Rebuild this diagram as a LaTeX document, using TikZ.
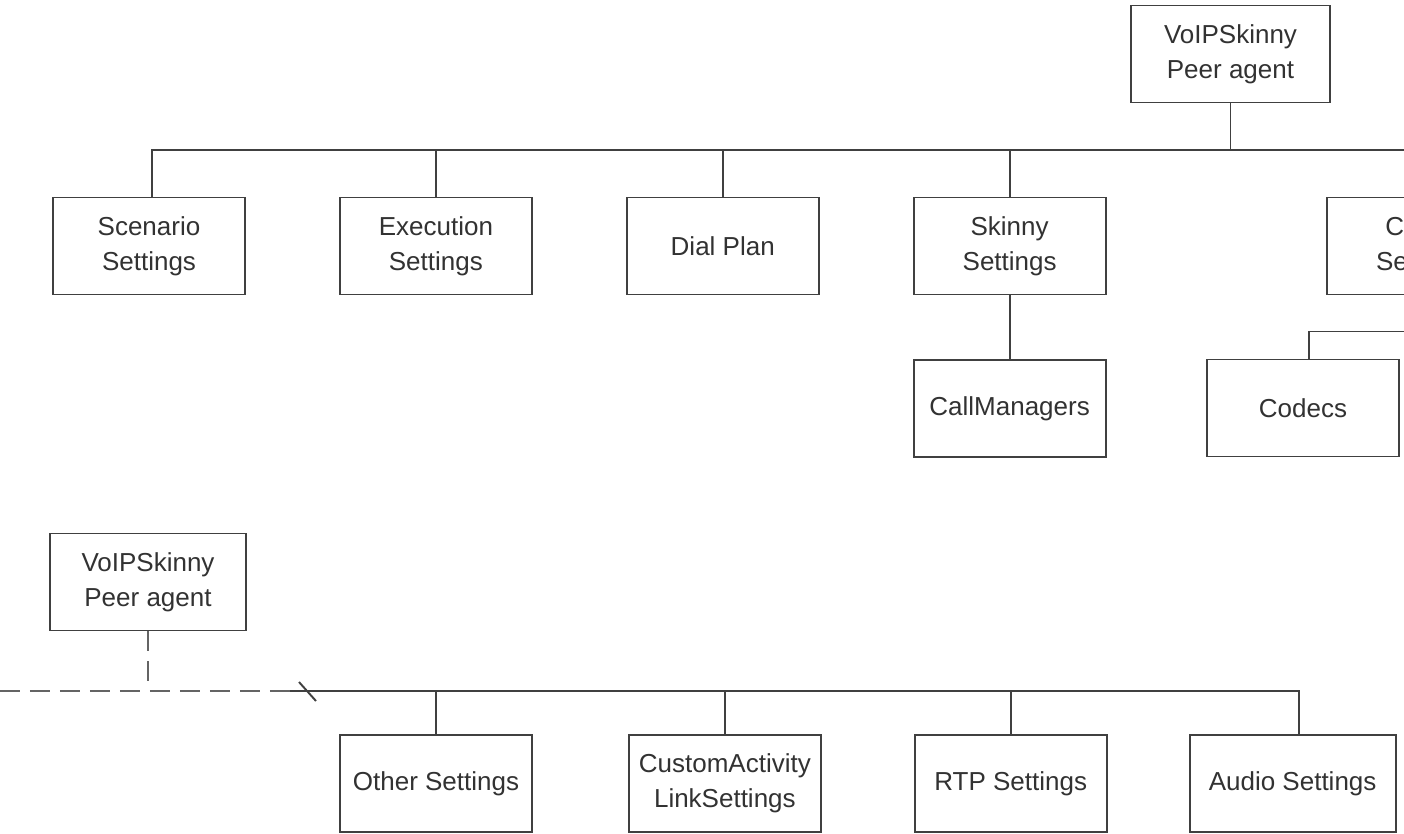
\documentclass[tikz,border=0pt]{standalone}
\usepackage{fontspec}
\setmainfont{Liberation Sans}
\usetikzlibrary{positioning,calc}
\definecolor{vsLine}{RGB}{64,64,64}
\definecolor{vsText}{RGB}{50,50,50}
\definecolor{vsDash}{RGB}{100,100,100}

\begin{document}
\begin{tikzpicture}[
    x=0.02cm, y=-0.02cm,
    node distance=1.86cm,
    box/.style={draw=vsLine, line width=1.1pt, fill=white, align=center, text=vsText, font=\fontsize{14.8}{19.9}\selectfont, minimum width=3.84cm, minimum height=1.94cm, inner sep=0pt},
    link/.style={draw=vsLine, line width=1.1pt},
    dashlink/.style={draw=vsDash, line width=1.25pt, dash pattern=on 0.4cm off 0.2cm}
  ]
  \useasboundingbox (0,0) rectangle (1404,833);
  \clip (0,0) rectangle (1404,833);
  % upper tree
  \node[box, minimum width=3.98cm] (root) at (1230.5,54) {VoIPSkinny\\Peer agent};
  \node[box] (scen) at (149,246) {Scenario\\Settings};
  \node[box, right=of scen] (exec) {Execution\\Settings};
  \node[box, right=of exec] (dial) {Dial Plan};
  \node[box, right=of dial] (skinny) {Skinny\\Settings};
  \node[box] (codecset) at (1423,246) {Codec\\Settings};
  \node[box, below=1.28cm of skinny] (callmgr) {CallManagers};
  \node[box] (codecs) at (1303,408) {Codecs};
  \coordinate (bus1) at (1230.5,150);
  \draw[link] (root.south) -- (bus1);
  \draw[link] ($(scen.north)+(3,0)$) |- (bus1) -| (codecset.north);
  \foreach \n in {exec,dial,skinny}
    \draw[link] (\n.north) -- (\n.north |- bus1);
  \draw[link] (skinny) -- (callmgr);
  \draw[link] ($(codecs.north)+(6,0)$) |- ($(codecset.south)+(0,36)$) -- (codecset.south);
  % lower tree
  \node[box, minimum width=3.92cm] (agent) at (148,582) {VoIPSkinny\\Peer agent};
  \node[box] (other) at (436,783.5) {Other Settings};
  \node[box, right=1.9cm of other] (custom) {CustomActivity\\LinkSettings};
  \node[box, right=1.84cm of custom] (rtp) {RTP Settings};
  \node[box, minimum width=4.12cm, right=1.62cm of rtp] (audio) {Audio Settings};
  \coordinate (bus2) at (290,691);
  \coordinate (tail) at (0,691);
  \draw[dashlink] (tail) -- (bus2);
  \draw[dashlink] (agent.south) -- (agent.south |- bus2);
  \draw[link] ($(bus2)+(9,-9)$) -- ($(bus2)+(26,10)$);
  \draw[link] (bus2) -| ($(audio.north)+(6,0)$);
  \foreach \n in {other,custom,rtp}
    \draw[link] (\n.north) -- (\n.north |- bus2);
\end{tikzpicture}
\end{document}
